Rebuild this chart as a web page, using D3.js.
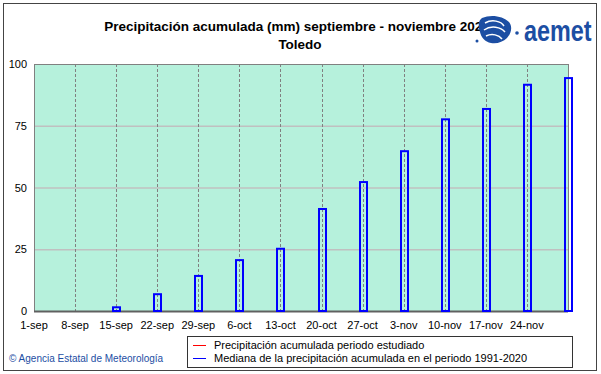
<!DOCTYPE html>
<html>
<head>
<meta charset="utf-8">
<script src="https://cdn.jsdelivr.net/npm/d3@7"></script>
<style>
  body { margin: 0; background: #fff; }
  svg { display: block; font-family: "Liberation Sans", Arial, sans-serif; }
</style>
</head>
<body>
<div id="container"></div>
<script>
// weekly dates, 1-sep to 1-dec 2020
const weekDates = ['2020-09-01', '2020-09-08', '2020-09-15', '2020-09-22', '2020-09-29', '2020-10-06',
    '2020-10-13', '2020-10-20', '2020-10-27', '2020-11-03', '2020-11-10', '2020-11-17', '2020-11-24', '2020-12-01'];
const tickLabels = ['1-sep', '8-sep', '15-sep', '22-sep', '29-sep', '6-oct', '13-oct', '20-oct',
    '27-oct', '3-nov', '10-nov', '17-nov', '24-nov', ''];
// mediana precipitacion acumulada 1991-2020 (mm)
const medianValues = [0, 0, 1.5, 6.8, 14.2, 20.6, 25.2, 41.3, 52.2, 64.7, 77.6, 81.8, 91.6, 94.3];
const yTicks = [0, 25, 50, 75, 100];

const W = 601, H = 374;
const margin = { left: 34, right: 33, top: 64, bottom: 63 };
const parse = d3.timeParse('%Y-%m-%d');
const dates = weekDates.map(parse);

let svg = d3.select('#container')
    .append('svg')
    .attr('width', W)
    .attr('height', H);

// outer frame
svg.append('rect')
    .attr('x', 3.5).attr('y', 3.5)
    .attr('width', 593).attr('height', 367)
    .attr('fill', 'white')
    .attr('stroke', '#444').attr('stroke-width', 1);

let x = d3.scaleTime()
    .domain([dates[0], dates[dates.length - 1]])
    .range([margin.left, W - margin.right]);

let y = d3.scaleLinear()
    .domain([0, 100])
    .range([H - margin.bottom, margin.top]);

// plot background
svg.append('rect')
    .attr('x', margin.left).attr('y', margin.top)
    .attr('width', W - margin.left - margin.right)
    .attr('height', H - margin.top - margin.bottom)
    .attr('fill', '#b6f1dc');

// horizontal grid
svg.append('g').selectAll('line').data(yTicks.slice(1, -1))
    .enter().append('line')
    .attr('x1', margin.left).attr('x2', W - margin.right)
    .attr('y1', d => y(d) + 0.5).attr('y2', d => y(d) + 0.5)
    .attr('stroke', '#c0c0c0').attr('stroke-width', 1.5);

// vertical dashed grid
svg.append('g').selectAll('line').data(dates.slice(1))
    .enter().append('line')
    .attr('x1', d => Math.round(x(d)) + 0.5).attr('x2', d => Math.round(x(d)) + 0.5)
    .attr('y1', margin.top).attr('y2', H - margin.bottom)
    .attr('stroke', '#808080').attr('stroke-dasharray', '3,2');

// plot border
svg.append('rect')
    .attr('x', margin.left + 0.5).attr('y', margin.top + 0.5)
    .attr('width', W - margin.left - margin.right)
    .attr('height', H - margin.top - margin.bottom)
    .attr('fill', 'none')
    .attr('stroke', '#808080');

svg.append('line')
    .attr('x1', margin.left).attr('x2', W - margin.right)
    .attr('y1', y(0) + 0.5).attr('y2', y(0) + 0.5)
    .attr('stroke', '#606060').attr('stroke-width', 2);

// median bars (hollow)
const barW = 7;
svg.append('g').selectAll('rect').data(medianValues)
    .enter().filter(d => d > 0)
    .append('rect')
    .attr('x', d => Math.round(x(dates[medianValues.indexOf(d)])) - barW / 2 + 0.5)
    .attr('y', d => y(d))
    .attr('width', barW)
    .attr('height', d => y(0) - y(d))
    .attr('fill', 'none')
    .attr('stroke', '#0000ff')
    .attr('stroke-width', 2);

// y tick labels
svg.append('g').selectAll('text').data(yTicks)
    .enter().append('text')
    .attr('x', 27)
    .attr('y', d => y(d) + 4)
    .attr('text-anchor', 'end')
    .attr('font-size', 11)
    .text(d => d);

// x tick labels
svg.append('g').selectAll('text').data(dates)
    .enter().append('text')
    .attr('x', d => x(d))
    .attr('y', 329)
    .attr('text-anchor', 'middle')
    .attr('font-size', 11)
    .text((d, i) => tickLabels[i]);

// title
svg.append('text')
    .attr('x', 297).attr('y', 31)
    .attr('text-anchor', 'middle')
    .attr('font-size', 13.5).attr('font-weight', 'bold')
    .text('Precipitación acumulada (mm) septiembre - noviembre 2020');
svg.append('text')
    .attr('x', 300).attr('y', 49)
    .attr('text-anchor', 'middle')
    .attr('font-size', 13.5).attr('font-weight', 'bold')
    .text('Toledo');

// aemet logo
let logo = svg.append('g').attr('transform', 'translate(495,30)');
logo.append('path')
    .attr('d', 'M-13,-12 C-4,-16 8,-14 14,-8 C18,-3 16,4 12,8 C8,12 2,14 -4,13 C-10,12 -14,7 -15,2 C-17,-4 -17,-9 -13,-12 Z')
    .attr('fill', '#1c4ea3');
logo.append('path')
    .attr('d', 'M-10,-7 C-3,-11 6,-9 9,-4 M-11,0 C-4,-5 6,-3 10,2 M-9,6 C-3,3 4,5 7,9')
    .attr('fill', 'none').attr('stroke', 'white').attr('stroke-width', 1.5);
logo.append('circle').attr('cx', 22).attr('cy', 3).attr('r', 1.8).attr('fill', '#1c4ea3');
logo.append('circle').attr('cx', -18).attr('cy', 11).attr('r', 1.5).attr('fill', '#1c4ea3');
svg.append('text')
    .attr('transform', 'translate(524,41) scale(0.78,1)')
    .attr('font-size', 30).attr('font-weight', 'bold')
    .attr('fill', '#1c4ea3')
    .text('aemet');

// legend
let legend = svg.append('g');
legend.append('rect')
    .attr('x', 187.5).attr('y', 336.5)
    .attr('width', 385).attr('height', 31)
    .attr('fill', 'white').attr('stroke', '#333');
const legendItems = [
    { label: 'Precipitación acumulada periodo estudiado', color: '#ff0000' },
    { label: 'Mediana de la precipitación acumulada en el periodo 1991-2020', color: '#0000ff' }
];
legendItems.forEach((item, i) => {
    legend.append('line')
        .attr('x1', 193).attr('x2', 206)
        .attr('y1', 345.5 + i * 13).attr('y2', 345.5 + i * 13)
        .attr('stroke', item.color);
    legend.append('text')
        .attr('x', 214).attr('y', 349 + i * 13)
        .attr('font-size', 11)
        .text(item.label);
});

// copyright
svg.append('text')
    .attr('x', 9).attr('y', 362)
    .attr('font-size', 10)
    .attr('fill', '#1c4ea3')
    .text('© Agencia Estatal de Meteorología');
</script>
</body>
</html>
